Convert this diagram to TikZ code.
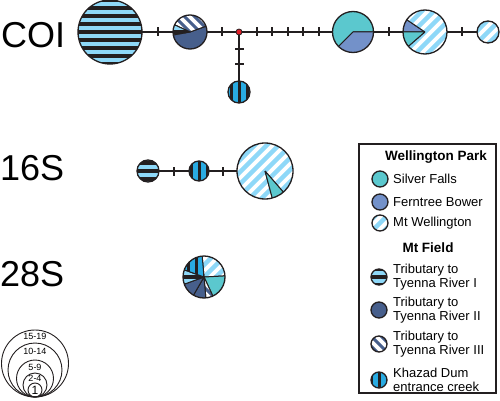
\documentclass[tikz,border=0pt]{standalone}
\usepackage{fontspec}
\setmainfont{Liberation Sans}
\definecolor{ltblue}{RGB}{142,216,248}
\definecolor{kdblue}{RGB}{41,171,226}
\definecolor{sfteal}{RGB}{91,200,206}
\definecolor{fbblue}{RGB}{115,145,201}
\definecolor{tiiblue}{RGB}{71,95,140}
\definecolor{ink}{RGB}{35,31,32}
\definecolor{dotred}{RGB}{230,30,40}

% fills of one site, centred on #1 with radius #2
\newcommand{\patSF}[2]{\fill[sfteal] #1 circle (#2);}
\newcommand{\patFB}[2]{\fill[fbblue] #1 circle (#2);}
\newcommand{\patTII}[2]{\fill[tiiblue] #1 circle (#2);}
\newcommand{\patTI}[2]{\fill[ltblue] #1 circle (#2);
  \foreach \k in {-5,...,5} \fill[ink,shift={#1}] (-#2,\k*8-2) rectangle (#2,\k*8+2);}
\newcommand{\patKD}[2]{\fill[kdblue] #1 circle (#2);
  \foreach \k in {-5,...,5} \fill[ink,shift={#1}] (\k*8-1.5,-#2) rectangle (\k*8+1.5,#2);}
\newcommand{\patMW}[2]{\fill[white] #1 circle (#2);
  \foreach \k in {-6,...,6} \draw[ltblue,line width=4.5,shift={#1}] (\k*12-40,-40) -- (\k*12+40,40);}
\newcommand{\patTIII}[2]{\fill[white] #1 circle (#2);
  \foreach \k in {-7,...,7} \draw[tiiblue,line width=3,shift={#1}] (\k*10-40,40) -- (\k*10+40,-40);}
% one slice of a pie: centre, radius, from, to, site
\newcommand{\piece}[5]{\begin{scope}
  \clip #1 -- ++(#3:#2) arc[start angle=#3,end angle=#4,radius=#2] -- cycle;
  \csname pat#5\endcsname{#1}{#2}
  \end{scope}
  \draw[ink,line width=1pt] #1 -- ++(#3:#2) #1 -- ++(#4:#2);}
\newcommand{\disc}[3]{\begin{scope}
  \clip #1 circle (#2);
  \csname pat#3\endcsname{#1}{#2}
  \end{scope}}

\begin{document}
\begin{tikzpicture}[x=1pt,y=1pt,
  hap/.style={circle,draw=ink,line width=1.3pt,inner sep=0pt,outer sep=0pt,minimum size=#1},
  link/.style={draw=ink,line width=1.3pt},
  vtick/.style={fill=ink,inner sep=0pt,minimum width=1.4pt,minimum height=9pt},
  htick/.style={fill=ink,inner sep=0pt,minimum width=9pt,minimum height=1.4pt},
  gene/.style={anchor=west,inner sep=0pt,font=\fontsize{36}{40}\selectfont},
  keytext/.style={anchor=west,inner sep=0pt,align=left,font=\fontsize{13}{13.5}\selectfont},
  keyhead/.style={inner sep=0pt,font=\bfseries\fontsize{13.5}{14}\selectfont},
  sizering/.style={circle,draw=ink,line width=0.9pt,inner sep=0pt,minimum size=#1}]
\useasboundingbox (0,0) rectangle (500,-401);

\node[gene] (coi) at (1,-35) {COI};
\node[gene] (s16) at (0,-168) {16S};
\node[gene] (s28) at (0,-274) {28S};

% COI
\disc{(110,-32)}{32}{TI}
\piece{(190,-32)}{17}{-170}{20}{TII}
\piece{(190,-32)}{17}{20}{155}{TIII}
\piece{(190,-32)}{17}{155}{190}{TI}
\piece{(353,-32)}{20.5}{0}{225}{SF}
\piece{(353,-32)}{20.5}{225}{360}{FB}
\piece{(425,-32)}{22}{146}{180}{FB}
\piece{(425,-32)}{22}{180}{221}{SF}
\piece{(425,-32)}{22}{-139}{146}{MW}
\disc{(488,-32)}{11}{MW}
\disc{(239,-92)}{11}{KD}
\node[hap=64pt] (c1) at (110,-32) {};
\node[hap=34pt] (c2) at (190,-32) {};
\node[circle,draw=ink,fill=dotred,line width=0.8pt,inner sep=0pt,minimum size=6pt] (mv) at (239,-32) {};
\node[hap=41pt] (c3) at (353,-32) {};
\node[hap=44pt] (c4) at (425,-32) {};
\node[hap=22pt] (c5) at (488,-32) {};
\node[hap=22pt] (c6) at (239,-92) {};
\draw[link] (c1) -- (c2) (c2) -- (mv) (mv) -- (c3) (c3) -- (c4) (c4) -- (c5) (mv) -- (c6);
\foreach \x in {158,222,257,272,288,303,319,389,462}
  \node[vtick] (t\x) at (\x,-32) {};
\foreach \y in {49,64}
  \node[htick] (u\y) at (239,-\y) {};

% 16S
\disc{(148,-171)}{11}{TI}
\disc{(199,-171)}{10}{KD}
\piece{(265,-171)}{28}{-49}{285}{MW}
\piece{(265,-171)}{28}{-75}{-49}{SF}
\node[hap=22pt] (d1) at (148,-171) {};
\node[hap=20pt] (d2) at (199,-171) {};
\node[hap=56pt] (d3) at (265,-171) {};
\draw[link] (d1) -- (d2) (d2) -- (d3);
\foreach \x in {174,223}
  \node[vtick] (v\x) at (\x,-171) {};

% 28S
\piece{(204,-277)}{21}{3}{95}{MW}
\piece{(204,-277)}{21}{-65}{3}{SF}
\piece{(204,-277)}{21}{-85}{-65}{TIII}
\piece{(204,-277)}{21}{-120}{-85}{TII}
\piece{(204,-277)}{21}{-160}{-120}{TII}
\piece{(204,-277)}{21}{160}{200}{TI}
\piece{(204,-277)}{21}{95}{160}{KD}
\node[hap=42pt] (e1) at (204,-277) {};

% sizes
\foreach \r/\l/\ly [count=\i] in {33.5/15-19/336,27/10-14/351,18.5/5-9/367,12/2-4/378}{
  \node[sizering={\r*2pt}] (ring\i) at (35,-397+\r) {};
  \node[inner sep=0pt,font=\fontsize{9}{9}\selectfont] (lab\i) at (35,-\ly) {\l};
}
\node[sizering=14pt] (ring5) at (35,-390) {};
\node[inner sep=0pt,font=\fontsize{12}{12}\selectfont] (lab5) at (35,-390) {1};

% key
\node[draw=ink,line width=1.4pt,minimum width=137pt,minimum height=249pt] (key) at (427.5,-268.5) {};
\node[keyhead] (wp) at (436,-157) {Wellington Park};
\node[keyhead] (mf) at (428,-248) {Mt Field};
\foreach \y/\p/\t in {179/SF/Silver Falls,202/FB/Ferntree Bower,223/MW/Mt Wellington}{
  \disc{(380,-\y)}{8}{\p}
  \node[hap=16pt] (i\p) at (380,-\y) {};
  \node[keytext] (k\p) at (393,-\y) {\t};
}
\foreach \y/\p/\t in {277/TI/I,310/TII/II,344/TIII/III}{
  \disc{(379,-\y)}{8}{\p}
  \node[hap=16pt] (i\p) at (379,-\y) {};
  \node[keytext] (k\p) at (393,-\y) {Tributary to\\Tyenna River \t};
}
\disc{(379,-380)}{8}{KD}
\node[hap=16pt] (iKD) at (379,-380) {};
\node[keytext] (kKD) at (393,-380) {Khazad Dum\\entrance creek};
\end{tikzpicture}
\end{document}
